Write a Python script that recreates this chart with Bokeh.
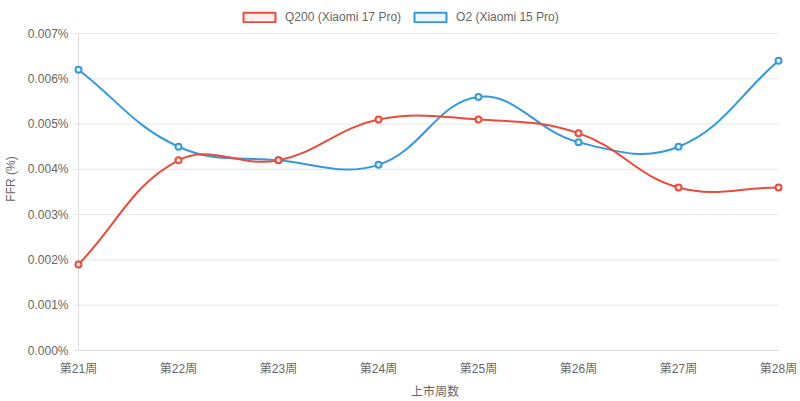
import numpy as np
from bokeh.plotting import figure
from bokeh.models import Legend, LegendItem, FixedTicker, PrintfTickFormatter, Range1d
from bokeh.embed import file_html
from bokeh.resources import INLINE

weeks = ["第21周", "第22周", "第23周", "第24周", "第25周", "第26周", "第27周", "第28周"]
q200 = [0.0019, 0.0042, 0.0042, 0.0051, 0.0051, 0.0048, 0.0036, 0.0036]
o2 = [0.0062, 0.0045, 0.0042, 0.0041, 0.0056, 0.0046, 0.0045, 0.0064]
series_names = ["Q200 (Xiaomi 17 Pro)", "O2 (Xiaomi 15 Pro)"]
y_ticks = [0.000, 0.001, 0.002, 0.003, 0.004, 0.005, 0.006, 0.007]

colors = ["#e74c3c", "#3498db"]
fills = ["#fdedec", "#ebf5fb"]
FONT = "Liberation Sans, Arial, Noto Sans CJK SC"
TXT = "#666666"
GRID = "#e6e6e6"
AXIS = "#dcdcdc"

W, H = 800, 401
# frame (screen px)
FL, FR, FT, FB = 70, 798, 2, 355
# data area (screen px)
DL, DR, DT, DB = 77, 778, 33, 350
YMAX = 0.007
NX = len(weeks) - 1
SX = (DR - DL) / NX
SY = (DB - DT) / YMAX


def spline(xs, ys, t=0.4):
    px = np.asarray(xs, float) * SX
    py = np.asarray(ys, float) * SY
    n = len(px)
    pcx = np.zeros(n); pcy = np.zeros(n); ncx = np.zeros(n); ncy = np.zeros(n)
    for i in range(n):
        a = i - 1 if i > 0 else i
        b = i + 1 if i < n - 1 else i
        d01 = np.hypot(px[i] - px[a], py[i] - py[a])
        d12 = np.hypot(px[b] - px[i], py[b] - py[i])
        tot = d01 + d12
        s01 = d01 / tot if tot else 0
        s12 = d12 / tot if tot else 0
        fa = t * s01
        fb = t * s12
        pcx[i] = px[i] - fa * (px[b] - px[a])
        pcy[i] = py[i] - fa * (py[b] - py[a])
        ncx[i] = px[i] + fb * (px[b] - px[a])
        ncy[i] = py[i] + fb * (py[b] - py[a])
    pcx /= SX; ncx /= SX
    pcy = np.clip(pcy / SY, 0, YMAX)
    ncy = np.clip(ncy / SY, 0, YMAX)
    return pcx.tolist(), pcy.tolist(), ncx.tolist(), ncy.tolist()


x_range = Range1d(-(DL - FL) / SX, NX + (FR - DR) / SX)
y_range = Range1d(-(FB - DB) / SY, YMAX + (DT - FT) / SY)

p = figure(width=W, height=H, output_backend="svg", toolbar_location=None,
           x_range=x_range, y_range=y_range,
           min_border_left=FL, min_border_right=W - FR, min_border_top=FT,
           min_border_bottom=H - FB)
p.outline_line_color = None
p.background_fill_color = "white"
p.border_fill_color = "white"
p.xgrid.visible = False
p.ygrid.visible = False

# horizontal grid lines with outward tick stubs
tick_out = 5 / SX
p.segment(x0=[-tick_out] * len(y_ticks), x1=[NX] * len(y_ticks), y0=y_ticks, y1=y_ticks,
          line_color=GRID, line_width=1)
# axis border lines
p.segment(x0=[0], x1=[0], y0=[0], y1=[YMAX], line_color=AXIS, line_width=1)
p.segment(x0=[0], x1=[NX], y0=[0], y1=[0], line_color=AXIS, line_width=1)

xs = list(range(len(weeks)))
for k in [1, 0]:
    ys = [q200, o2][k]
    pcx, pcy, ncx, ncy = spline(xs, ys)
    p.bezier(x0=xs[:-1], y0=ys[:-1], x1=xs[1:], y1=ys[1:],
             cx0=ncx[:-1], cy0=ncy[:-1], cx1=pcx[1:], cy1=pcy[1:],
             line_color=colors[k], line_width=2)
    p.scatter(xs, ys, size=6, fill_color=fills[k], line_color=colors[k], line_width=2)

legend_items = []
for k in range(2):
    r = p.quad(left=[float("nan")], right=[float("nan")], top=[float("nan")],
               bottom=[float("nan")], fill_color=fills[k],
               line_color=colors[k], line_width=2)
    legend_items.append(LegendItem(label=series_names[k], renderers=[r]))

legend = Legend(items=legend_items, orientation="horizontal",
                location=(238 - FL, FB - 24),
                glyph_width=40, glyph_height=12, label_height=12, label_standoff=6,
                spacing=9, padding=2, margin=0, border_line_color=None,
                background_fill_alpha=0, label_text_font=FONT,
                label_text_font_size="12px", label_text_color=TXT)
p.add_layout(legend, "center")

p.yaxis.ticker = FixedTicker(ticks=y_ticks)
p.yaxis.formatter = PrintfTickFormatter(format="%.3f%%")
p.yaxis.axis_label = "FFR (%)"
p.xaxis.ticker = FixedTicker(ticks=xs)
p.xaxis.major_label_overrides = {i: w for i, w in enumerate(weeks)}
p.xaxis.axis_label = "上市周数"

for ax in (p.xaxis, p.yaxis):
    ax.axis_line_color = None
    ax.major_tick_line_color = None
    ax.minor_tick_line_color = None
    ax.major_tick_in = 0
    ax.major_tick_out = 0
    ax.major_label_text_font = FONT
    ax.major_label_text_font_size = "12px"
    ax.major_label_text_color = TXT
    ax.axis_label_text_font = FONT
    ax.axis_label_text_font_size = "12px"
    ax.axis_label_text_color = TXT
    ax.axis_label_text_font_style = "normal"

p.yaxis.major_label_standoff = 3
p.yaxis.axis_label_standoff = 7
p.xaxis.major_label_standoff = 6
p.xaxis.axis_label_standoff = 6

open("out.html", "w").write(file_html(p, INLINE))
